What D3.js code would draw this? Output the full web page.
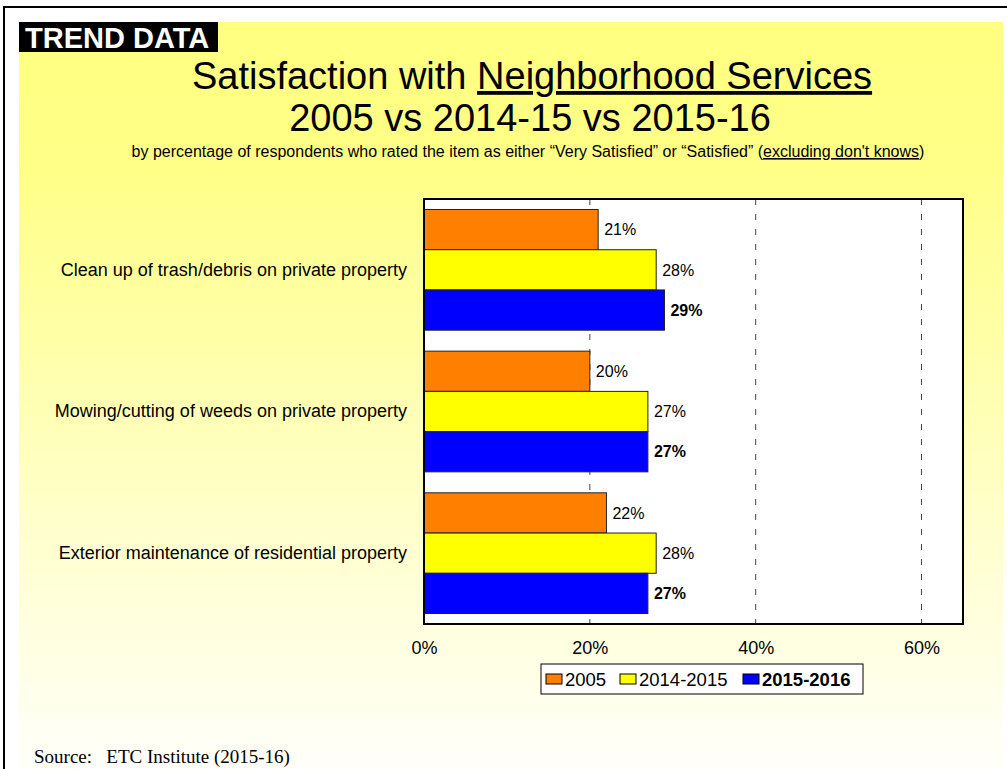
<!DOCTYPE html>
<html>
<head>
<meta charset="utf-8">
<script src="https://cdn.jsdelivr.net/npm/d3@7"></script>
<style>
  html, body { margin: 0; padding: 0; background: #fff; }
  svg { display: block; }
</style>
</head>
<body>
<svg id="chart" width="1007" height="769" font-family="Arial, 'Liberation Sans', sans-serif"></svg>
<script>
// Survey items (rows, top to bottom)
const categories = [
  "Clean up of trash/debris on private property",
  "Mowing/cutting of weeds on private property",
  "Exterior maintenance of residential property"
];
// Survey years
const seriesNames = ["2005", "2014-2015", "2015-2016"];
// Percent satisfied per item, one array per survey year
const values2005 = [21, 20, 22];
const values2014 = [28, 27, 28];
const values2015 = [29, 27, 27];
// Axis ticks
const tickValues = [0, 20, 40, 60];

const seriesValues = [values2005, values2014, values2015];
const seriesColors = ["#FF8000", "#FFFF00", "#0000FF"];

const svg = d3.select("#chart");
const W = 1007, H = 769;

// Background panel with soft yellow fade
const defs = svg.append("defs");
const grad = defs.append("linearGradient")
  .attr("id", "bgFade").attr("x1", 0).attr("y1", 0).attr("x2", 0).attr("y2", 1);
grad.append("stop").attr("offset", "0%").attr("stop-color", "#FFFF80");
grad.append("stop").attr("offset", "20%").attr("stop-color", "#FFFF88");
grad.append("stop").attr("offset", "100%").attr("stop-color", "#FFFFFA");

svg.append("rect").attr("x", 0).attr("y", 0).attr("width", W).attr("height", H).attr("fill", "#fff");
svg.append("rect").attr("x", 19).attr("y", 22).attr("width", 984).attr("height", H - 22)
  .attr("fill", "url(#bgFade)");

// Slide frame (top and left edges)
svg.append("path").attr("d", `M4,${H} L4,7 L${W},7`)
  .attr("fill", "none").attr("stroke", "#000").attr("stroke-width", 2);

// Badge
svg.append("rect").attr("x", 19).attr("y", 22).attr("width", 199).attr("height", 30).attr("fill", "#000");
svg.append("text").attr("x", 25).attr("y", 48).attr("fill", "#fff")
  .attr("font-weight", "bold").attr("font-size", 29).text("TREND DATA");

// Titles
const title1 = svg.append("text").attr("x", 532).attr("y", 89)
  .attr("text-anchor", "middle").attr("font-size", 38).attr("fill", "#000");
title1.append("tspan").text("Satisfaction with ");
title1.append("tspan").attr("text-decoration", "underline").text("Neighborhood Services");

svg.append("text").attr("x", 530).attr("y", 131)
  .attr("text-anchor", "middle").attr("font-size", 38).attr("fill", "#000")
  .text("2005 vs 2014-15 vs 2015-16");

const sub = svg.append("text").attr("x", 528).attr("y", 157)
  .attr("text-anchor", "middle").attr("font-size", 16).attr("fill", "#000");
sub.append("tspan").text("by percentage of respondents who rated the item as either \u201CVery Satisfied\u201D or \u201CSatisfied\u201D (");
sub.append("tspan").attr("text-decoration", "underline").text("excluding don't knows");
sub.append("tspan").text(")");

// Plot area
const plot = { left: 424, right: 963, top: 199, bottom: 624 };

const x = d3.scaleLinear().domain([0, 65]).range([plot.left, plot.right]);
const y = d3.scaleBand().domain(categories).range([plot.top, plot.bottom])
  .paddingInner(0.148).paddingOuter(0.074);
const ySub = d3.scaleBand().domain(seriesNames).range([0, y.bandwidth()]);

svg.append("rect")
  .attr("x", plot.left).attr("y", plot.top)
  .attr("width", plot.right - plot.left).attr("height", plot.bottom - plot.top)
  .attr("fill", "#fff");

// Dashed gridlines
svg.append("g").selectAll("line")
  .data(tickValues.filter(d => d > 0))
  .join("line")
  .attr("x1", d => x(d)).attr("x2", d => x(d))
  .attr("y1", plot.top).attr("y2", plot.bottom)
  .attr("stroke", "#444").attr("stroke-width", 1)
  .attr("stroke-dasharray", "6,9");

// Bars
const rows = categories.map((c, i) => ({
  category: c,
  items: seriesNames.map((s, j) => ({ series: s, idx: j, value: seriesValues[j][i] }))
}));

const groups = svg.append("g").selectAll("g")
  .data(rows)
  .join("g")
  .attr("transform", d => `translate(0,${y(d.category)})`);

groups.selectAll("rect")
  .data(d => d.items)
  .join("rect")
  .attr("x", x(0))
  .attr("y", d => ySub(d.series))
  .attr("width", d => x(d.value) - x(0))
  .attr("height", ySub.bandwidth())
  .attr("fill", d => seriesColors[d.idx])
  .attr("stroke", "#222").attr("stroke-width", 1);

groups.selectAll("text")
  .data(d => d.items)
  .join("text")
  .attr("x", d => x(d.value) + 6)
  .attr("y", d => ySub(d.series) + ySub.bandwidth() / 2)
  .attr("dy", "0.36em")
  .attr("font-size", 16)
  .attr("font-weight", d => d.idx === 2 ? "bold" : "normal")
  .attr("fill", "#000")
  .text(d => d.value + "%");

// Plot border
svg.append("rect")
  .attr("x", plot.left).attr("y", plot.top)
  .attr("width", plot.right - plot.left).attr("height", plot.bottom - plot.top)
  .attr("fill", "none").attr("stroke", "#000").attr("stroke-width", 2);

// Category labels
const yAxis = d3.axisLeft(y).tickSize(0).tickPadding(17);
const yG = svg.append("g").attr("transform", `translate(${plot.left},0)`).call(yAxis);
yG.select(".domain").remove();
yG.selectAll("text").attr("font-size", 18).attr("fill", "#000")
  .attr("font-family", "Arial, 'Liberation Sans', sans-serif");

// Percent axis labels
const xAxis = d3.axisBottom(x).tickValues(tickValues).tickFormat(d => d + "%")
  .tickSize(0).tickPadding(17);
const xG = svg.append("g").attr("transform", `translate(0,${plot.bottom})`).call(xAxis);
xG.select(".domain").remove();
xG.selectAll("text").attr("font-size", 18).attr("fill", "#000")
  .attr("font-family", "Arial, 'Liberation Sans', sans-serif");

// Legend
const lg = { x: 541, y: 664, w: 322, h: 30 };
svg.append("rect").attr("x", lg.x).attr("y", lg.y).attr("width", lg.w).attr("height", lg.h)
  .attr("fill", "#fff").attr("stroke", "#000").attr("stroke-width", 1);
const legendX = [546, 620, 743];
const li = svg.append("g").selectAll("g")
  .data(seriesNames)
  .join("g")
  .attr("transform", (d, i) => `translate(${legendX[i]},${lg.y + 10})`);
li.append("rect").attr("width", 16).attr("height", 10)
  .attr("fill", (d, i) => seriesColors[i]).attr("stroke", "#000").attr("stroke-width", 1);
li.append("text").attr("x", 19).attr("y", 5).attr("dy", "0.36em")
  .attr("font-size", 18.5)
  .attr("font-weight", (d, i) => i === 2 ? "bold" : "normal")
  .text(d => d);

// Source note
svg.append("text").attr("x", 34).attr("y", 763)
  .attr("font-family", "'Liberation Serif', 'Times New Roman', serif")
  .attr("font-size", 19).attr("fill", "#000")
  .attr("xml:space", "preserve")
  .text("Source:   ETC Institute (2015-16)");
</script>
</body>
</html>
